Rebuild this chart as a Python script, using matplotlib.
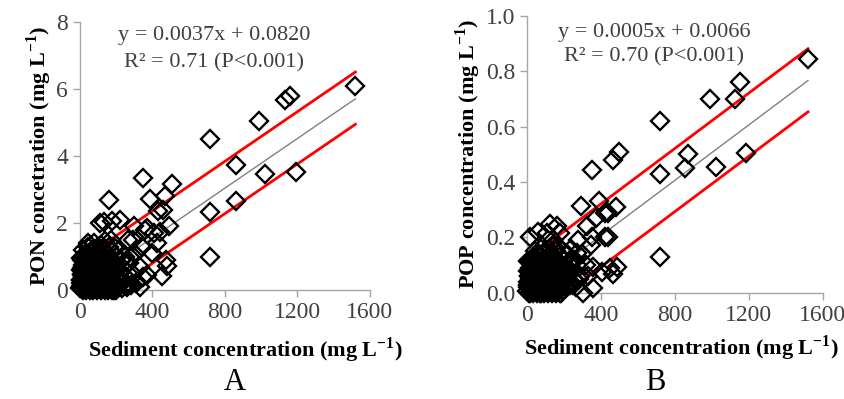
import numpy as np
import matplotlib
matplotlib.use('Agg')
import matplotlib.pyplot as plt

plt.rcParams['font.family'] = ['Liberation Serif', 'DejaVu Serif']
plt.rcParams['mathtext.fontset'] = 'custom'
plt.rcParams['mathtext.rm'] = 'Liberation Serif'
plt.rcParams['mathtext.bf'] = 'Liberation Serif:bold'

# panel A: sediment vs PON (outliers, blob estimated)
sed_a = [1520, 1130, 1160, 990, 720, 860, 1020, 1190, 860, 720, 720,
         345, 510, 160, 385, 470, 430, 490, 480, 450, 475, 360, 370, 175,
         110, 300, 290, 400, 410, 340, 350, 330, 310, 280, 230, 200,
         130, 220, 460, 440, 267, 423, 46, 18, 303, 276, 368, 312, 331, 257,
         2, 5, 8, 10, 12, 15, 18, 20, 22, 25, 28, 30, 32, 35, 38, 40, 42, 45,
         48, 50, 52, 55, 58, 60, 62, 65, 68, 70, 72, 75, 78, 80, 82, 85, 88,
         90, 92, 95, 98, 100, 102, 105, 108, 110, 112, 115, 118, 120, 122,
         125, 128, 130, 132, 135, 138, 140, 142, 145, 148, 150, 152, 155,
         158, 160, 165, 168, 170, 172, 175, 178, 180, 185, 188, 190, 195,
         198, 200, 205, 210, 215, 220, 225, 230, 240, 250, 255, 265, 270,
         285, 3, 6, 10, 14, 18, 24, 28, 34, 40, 44, 50, 56, 60, 66, 74, 84,
         94, 104, 114, 126, 136, 146, 156, 166, 176, 186, 196,
         4, 9, 16, 21, 27, 33, 37, 43, 47, 53, 57, 63, 67, 71, 77, 83, 87,
         93, 97, 103, 107, 113, 117, 123, 127, 133, 137, 143, 147, 153, 163,
         173, 183, 193, 203, 213, 7, 13, 19, 26, 31, 36, 41, 49, 54, 59, 64,
         69, 76, 81, 86, 91, 96, 101, 109, 119, 129, 139, 149, 159, 169, 179]
pon = [6.10, 5.68, 5.78, 5.05, 4.50, 3.72, 3.45, 3.52, 2.65, 2.33, 0.98,
       3.35, 3.15, 2.70, 2.72, 2.80, 2.35, 1.90, 0.72, 0.42, 0.90, 1.80,
       1.85, 2.05, 2.00, 1.90, 1.50, 1.10, 1.70, 1.30, 0.40, 0.70, 0.20,
       0.15, 0.05, 0.00, 2.04, 2.09, 2.39, 1.74, 1.49, 1.39, 1.39, 1.19,
       1.09, 0.99, 0.45, 0.25, 0.10, 0.10,
       0.05, 0.12, 0.30, 0.02, 0.45, 0.20, 0.60, 0.08, 0.35, 0.90, 0.15,
       0.50, 1.10, 0.25, 0.70, 0.05, 0.40, 1.30, 0.18, 0.80, 0.55, 0.10,
       1.00, 0.30, 0.65, 1.20, 0.02, 0.45, 0.90, 0.20, 1.40, 0.60, 0.35,
       1.05, 0.12, 0.75, 0.50, 1.25, 0.28, 0.95, 0.05, 0.60, 1.15, 0.40,
       0.80, 0.15, 1.35, 0.55, 1.00, 0.30, 0.70, 1.20, 0.08, 0.90, 0.45,
       1.45, 0.25, 0.65, 1.10, 0.40, 0.85, 0.12, 1.30, 0.55, 0.95, 0.30,
       1.50, 0.70, 0.05, 1.15, 0.45, 0.85, 0.20, 1.30, 0.60, 1.00, 0.35,
       0.75, 0.10, 1.20, 0.50, 0.90, 0.25, 0.65, 1.00, 0.40, 0.15, 0.80,
       0.50, 0.30, 0.60, 0.90, 0.00, 0.40, 0.70, 1.00, 0.00, 0.60, 0.90,
       0.35, 0.00, 0.85, 0.55, 0.00, 0.40, 0.00, 0.30, 0.00, 0.50, 0.00,
       0.30, 0.00, 0.20, 0.00, 0.00, 0.05,
       0.22, 0.48, 0.75, 0.38, 0.62, 0.82, 0.15, 0.52, 1.05, 0.22, 0.68,
       0.42, 0.88, 0.12, 0.58, 0.32, 0.78, 0.18, 0.48, 0.68, 0.25, 0.95,
       0.38, 0.72, 0.20, 0.50, 0.85, 0.28, 0.60, 0.18, 0.45, 0.70, 0.25,
       0.55, 0.15, 0.35, 0.95, 0.65, 0.10, 0.55, 0.85, 0.40, 0.20, 0.70,
       0.30, 0.95, 0.15, 0.50, 0.75, 0.25, 0.60, 0.35, 0.20, 0.45, 0.70,
       0.15, 0.25, 0.35, 0.10, 0.30, 0.55, 0.80]

# panel B: sediment vs POP
sed_b = [1520, 1150, 1125, 990, 720, 500, 465, 870, 855, 1025, 1185, 720,
         720, 480, 422, 420, 450, 350, 290, 390, 436, 371, 323, 436, 350,
         345, 277, 268, 232, 404, 463, 485, 359, 305, 359, 178, 15, 61, 124,
         160, 178, 106, 140, 240, 260, 280, 300, 320, 330, 250,
         2, 5, 8, 10, 12, 15, 18, 20, 22, 25, 28, 30, 32, 35, 38, 40, 42, 45,
         48, 50, 52, 55, 58, 60, 62, 65, 68, 70, 72, 75, 78, 80, 82, 85, 88,
         90, 92, 95, 98, 100, 102, 105, 108, 110, 112, 115, 118, 120, 122,
         125, 128, 130, 132, 135, 138, 140, 142, 145, 148, 150, 152, 155,
         158, 160, 165, 168, 170, 172, 175, 178, 180, 185, 188, 190, 195,
         198, 200, 205, 210, 215, 220, 225, 230, 240, 250, 255, 265, 270,
         285, 3, 6, 10, 14, 18, 24, 28, 34, 40, 44, 50, 56, 60, 66, 74, 84,
         94, 104, 114, 126, 136, 146, 156, 166, 176, 186, 196,
         4, 9, 16, 21, 27, 33, 37, 43, 47, 53, 57, 63, 67, 71, 77, 83, 87,
         93, 97, 103, 107, 113, 117, 123, 127, 133, 137, 143, 147, 153, 163,
         173, 183, 193, 203, 213, 7, 13, 19, 26, 31, 36, 41, 49, 54, 59, 64,
         69, 76, 81, 86, 91, 96, 101, 109, 119, 129, 139, 149, 159, 169, 179]
pop = [0.845, 0.76, 0.70, 0.70, 0.62, 0.51, 0.48, 0.50, 0.45, 0.455, 0.505,
       0.43, 0.13, 0.31, 0.29, 0.20, 0.09, 0.445, 0.315, 0.33, 0.29, 0.27,
       0.24, 0.20, 0.20, 0.173, 0.19, 0.143, 0.10, 0.077, 0.069, 0.095,
       0.095, 0.00, 0.017, 0.03, 0.20, 0.22, 0.25, 0.24, 0.215, 0.215,
       0.19, 0.16, 0.12, 0.05, 0.14, 0.10, 0.06, 0.03,
       0.005, 0.02, 0.04, 0.00, 0.06, 0.03, 0.08, 0.01, 0.05, 0.11, 0.02,
       0.07, 0.13, 0.03, 0.09, 0.01, 0.05, 0.15, 0.02, 0.10, 0.07, 0.01,
       0.12, 0.04, 0.08, 0.14, 0.00, 0.06, 0.11, 0.03, 0.16, 0.08, 0.05,
       0.12, 0.02, 0.09, 0.06, 0.15, 0.04, 0.11, 0.01, 0.07, 0.13, 0.05,
       0.10, 0.02, 0.16, 0.07, 0.12, 0.04, 0.09, 0.14, 0.01, 0.11, 0.06,
       0.17, 0.03, 0.08, 0.13, 0.05, 0.10, 0.02, 0.15, 0.07, 0.11, 0.04,
       0.17, 0.09, 0.01, 0.13, 0.06, 0.10, 0.03, 0.15, 0.08, 0.12, 0.05,
       0.09, 0.02, 0.14, 0.06, 0.11, 0.03, 0.08, 0.12, 0.05, 0.02, 0.10,
       0.06, 0.04, 0.08, 0.11, 0.00, 0.05, 0.09, 0.12, 0.00, 0.07, 0.11,
       0.04, 0.00, 0.10, 0.07, 0.00, 0.05, 0.00, 0.04, 0.00, 0.06, 0.00,
       0.04, 0.00, 0.03, 0.00, 0.00, 0.01,
       0.03, 0.06, 0.09, 0.045, 0.075, 0.10, 0.02, 0.065, 0.125, 0.03,
       0.085, 0.05, 0.105, 0.015, 0.07, 0.04, 0.095, 0.025, 0.06, 0.085,
       0.035, 0.115, 0.05, 0.09, 0.025, 0.065, 0.105, 0.035, 0.075, 0.025,
       0.055, 0.085, 0.03, 0.07, 0.02, 0.045, 0.115, 0.08, 0.015, 0.07,
       0.105, 0.05, 0.025, 0.085, 0.04, 0.115, 0.02, 0.065, 0.09, 0.03,
       0.075, 0.045, 0.025, 0.055, 0.085, 0.02, 0.035, 0.045, 0.015, 0.04,
       0.07, 0.10]

# regression fits and prediction band offsets
fit_a = (0.0037, 0.0820)
band_a = (0.80, -0.76)
fit_b = (0.0005, 0.0066)
band_b = (0.115, -0.113)
x_fit = [0, 1520]
eq_a = ['y = 0.0037x + 0.0820', 'R\u00b2 = 0.71 (P<0.001)']
eq_b = ['y = 0.0005x + 0.0066', 'R\u00b2 = 0.70 (P<0.001)']

xlab = 'Sediment concentration (mg L$^{\\mathbf{-1}}$)'

fig = plt.figure(figsize=(8.45, 3.99), dpi=100)
ax1 = fig.add_axes([0.0947, 0.273, 0.343, 0.672])
ax2 = fig.add_axes([0.6237, 0.266, 0.350, 0.694])

def panel(ax, sx, sy, fit, band, eq, eqx, eqy, ylim, yticks, yfmt, ylab):
    xf = np.array(x_fit, dtype=float)
    yf = fit[0]*xf + fit[1]
    ax.plot(xf, yf, color='#808080', lw=1, zorder=1)
    ax.plot(xf, yf + band[0], color='#ff0000', lw=2, zorder=1)
    ax.plot(xf, yf + band[1], color='#ff0000', lw=2, zorder=1)
    ax.plot(sx, sy, 'D', mfc='none', mec='black', ms=9, mew=1.7,
            clip_on=False, zorder=3)
    ax.set_xlim(0, 1600)
    ax.set_ylim(*ylim)
    ax.set_xticks([0, 400, 800, 1200, 1600])
    ax.set_yticks(yticks)
    ax.set_yticklabels([yfmt.format(t) for t in yticks])
    for s in ['top', 'right']:
        ax.spines[s].set_visible(False)
    for s in ['left', 'bottom']:
        ax.spines[s].set_color('#a6a6a6')
        ax.spines[s].set_linewidth(1)
    ax.tick_params(colors='#a6a6a6', labelcolor='#404040', labelsize=17,
                   length=5, width=1)
    ax.set_ylabel(ylab, fontsize=16, fontweight='bold', labelpad=2)
    ax.text(eqx, eqy[0], eq[0], transform=ax.transAxes, ha='center',
            va='center', fontsize=16, color='#404040')
    ax.text(eqx, eqy[1], eq[1], transform=ax.transAxes, ha='center',
            va='center', fontsize=16, color='#404040')

panel(ax1, sed_a, pon, fit_a, band_a, eq_a, 0.462, (0.948, 0.848),
      (0, 8), [0, 2, 4, 6, 8], '{:g}',
      'PON concetration (mg L$^{\\mathbf{-1}}$)')
panel(ax2, sed_b, pop, fit_b, band_b, eq_b, 0.43, (0.942, 0.852),
      (0, 1.0), [0, 0.2, 0.4, 0.6, 0.8, 1.0], '{:.1f}',
      'POP concentration (mg L$^{\\mathbf{-1}}$)')

fig.text(245/845, 1-350/399, xlab, ha='center', va='center', fontsize=16,
         fontweight='bold')
fig.text(681/845, 1-348/399, xlab, ha='center', va='center', fontsize=16,
         fontweight='bold')
fig.text(235/845, 1-390/399, 'A', ha='center', va='baseline', fontsize=22)
fig.text(655/845, 1-390/399, 'B', ha='center', va='baseline', fontsize=22)

fig.savefig('out.png', dpi=100)
